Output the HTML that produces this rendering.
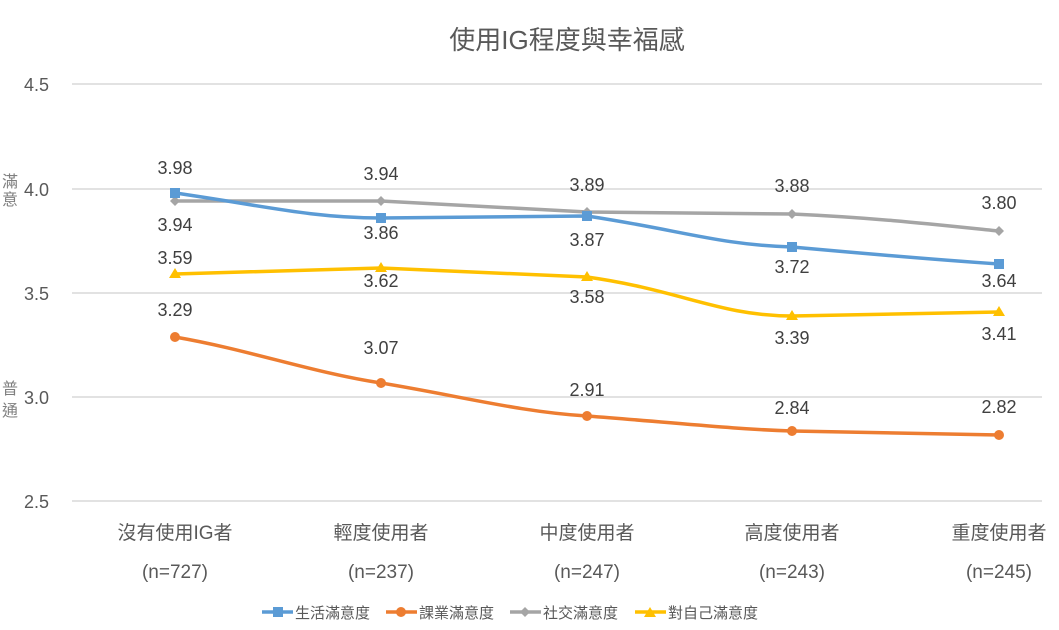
<!DOCTYPE html>
<html><head><meta charset="utf-8"><style>
body{margin:0;background:#fff}
svg{display:block;font-family:"Liberation Sans","Noto Sans CJK TC",sans-serif}
</style></head><body>
<svg width="1059" height="630" viewBox="0 0 1059 630">
<rect width="1059" height="630" fill="#fff"/>
<text x="567" y="49" font-size="26" fill="#595959" text-anchor="middle">使用IG程度與幸福感</text>
<g stroke="#d9d9d9" stroke-width="1.5">
<line x1="72" y1="84" x2="1042" y2="84"/><line x1="72" y1="189" x2="1042" y2="189"/>
<line x1="72" y1="293" x2="1042" y2="293"/><line x1="72" y1="397" x2="1042" y2="397"/>
<line x1="72" y1="501" x2="1042" y2="501"/></g>
<g font-size="18" fill="#595959" text-anchor="end">
<text x="49" y="91">4.5</text><text x="49" y="196">4.0</text><text x="49" y="300">3.5</text>
<text x="49" y="404">3.0</text><text x="49" y="508">2.5</text></g>
<g font-size="16" fill="#7f7f7f" text-anchor="middle">
<text x="10" y="187">滿</text><text x="10" y="205">意</text>
<text x="10" y="394">普</text><text x="10" y="416">通</text></g>
<g fill="none" stroke-width="3.5" stroke-linejoin="round" stroke-linecap="round">
<path d="M175,337 C250,350 310,372 381,383 C460,396 520,412 587,416 C680,423 730,429 792,431 C880,433 940,434 999,435" stroke="#ed7d31"/>
<path d="M175,274 L381,268 L587,277 C680,290 720,316 792,316 L999,312" stroke="#ffc000"/>
<path d="M175,201 L381,201 L587,212 L792,214 C880,218 940,225 999,231" stroke="#a5a5a5"/>
<path d="M175,193 C260,205 310,218 381,218 L587,216 C680,230 720,245 792,247 C880,255 940,260 999,264" stroke="#5b9bd5"/>
</g>
<g fill="#ed7d31"><circle cx="175" cy="337" r="5"/><circle cx="381" cy="383" r="5"/><circle cx="587" cy="416" r="5"/><circle cx="792" cy="431" r="5"/><circle cx="999" cy="435" r="5"/></g>
<g fill="#ffc000"><path d="M169,278h12l-6,-10z"/><path d="M375,272h12l-6,-10z"/><path d="M581,281h12l-6,-10z"/><path d="M786,320h12l-6,-10z"/><path d="M993,316h12l-6,-10z"/></g>
<g fill="#a5a5a5"><path d="M175,196l5,5l-5,5l-5,-5z"/><path d="M381,196l5,5l-5,5l-5,-5z"/><path d="M587,207l5,5l-5,5l-5,-5z"/><path d="M792,209l5,5l-5,5l-5,-5z"/><path d="M999,226l5,5l-5,5l-5,-5z"/></g>
<g fill="#5b9bd5"><rect x="170" y="188" width="10" height="10"/><rect x="376" y="213" width="10" height="10"/><rect x="582" y="211" width="10" height="10"/><rect x="787" y="242" width="10" height="10"/><rect x="994" y="259" width="10" height="10"/></g>
<g font-size="18" fill="#404040" text-anchor="middle">
<text x="175" y="174">3.98</text><text x="175" y="231">3.94</text><text x="175" y="264">3.59</text><text x="175" y="316">3.29</text>
<text x="381" y="180">3.94</text><text x="381" y="239">3.86</text><text x="381" y="287">3.62</text><text x="381" y="354">3.07</text>
<text x="587" y="191">3.89</text><text x="587" y="246">3.87</text><text x="587" y="303">3.58</text><text x="587" y="396">2.91</text>
<text x="792" y="192">3.88</text><text x="792" y="273">3.72</text><text x="792" y="344">3.39</text><text x="792" y="414">2.84</text>
<text x="999" y="209">3.80</text><text x="999" y="287">3.64</text><text x="999" y="340">3.41</text><text x="999" y="413">2.82</text>
</g>
<g font-size="19" fill="#595959" text-anchor="middle">
<text x="175" y="539">沒有使用IG者</text><text x="175" y="578">(n=727)</text>
<text x="381" y="539">輕度使用者</text><text x="381" y="578">(n=237)</text>
<text x="587" y="539">中度使用者</text><text x="587" y="578">(n=247)</text>
<text x="792" y="539">高度使用者</text><text x="792" y="578">(n=243)</text>
<text x="999" y="539">重度使用者</text><text x="999" y="578">(n=245)</text>
</g>
<g stroke-width="3.5">
<line x1="262" y1="612" x2="293" y2="612" stroke="#5b9bd5"/><rect x="273" y="607" width="10" height="10" fill="#5b9bd5"/>
<line x1="386" y1="612" x2="417" y2="612" stroke="#ed7d31"/><circle cx="401" cy="612" r="5" fill="#ed7d31"/>
<line x1="510" y1="612" x2="541" y2="612" stroke="#a5a5a5"/><path d="M525,607l5,5l-5,5l-5,-5z" fill="#a5a5a5"/>
<line x1="635" y1="612" x2="666" y2="612" stroke="#ffc000"/><path d="M644,617h12l-6,-10z" fill="#ffc000"/>
</g>
<g font-size="15" fill="#595959">
<text x="295" y="618">生活滿意度</text><text x="419" y="618">課業滿意度</text>
<text x="543" y="618">社交滿意度</text><text x="668" y="618">對自己滿意度</text></g>
</svg>
</body></html>
